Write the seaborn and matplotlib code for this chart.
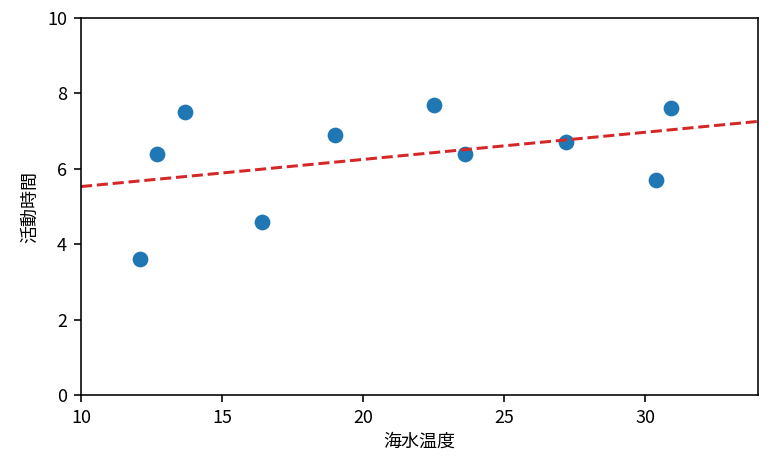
import numpy as np
import matplotlib
matplotlib.use("Agg")
import matplotlib.pyplot as plt
import seaborn as sns

# sea temperature vs. activity time
sea_temp = [12.1, 12.7, 13.7, 16.4, 19.0, 22.5, 23.6, 27.2, 30.4, 30.9]
activity = [3.6, 6.4, 7.5, 4.6, 6.9, 7.7, 6.4, 6.7, 5.7, 7.6]
x_limits = [10, 34]
y_limits = [0, 10]

plt.rcParams['font.family'] = ['Noto Sans CJK JP', 'DejaVu Sans']
plt.rcParams['font.size'] = 9

fig, ax = plt.subplots(figsize=(777 / 144, 457 / 144), dpi=144)
fig.subplots_adjust(left=81 / 777, right=758 / 777, top=1 - 18 / 457, bottom=1 - 395 / 457)

sns.scatterplot(x=sea_temp, y=activity, ax=ax, s=62, color='#1f77b4', linewidth=0)

# least squares fit over the whole x range
slope, intercept = np.polyfit(sea_temp, activity, 1)
line_x = np.array(x_limits, dtype=float)
ax.plot(line_x, slope * line_x + intercept, color='#d62728', linestyle='--', linewidth=1.5)

ax.set_xlim(x_limits)
ax.set_ylim(y_limits)
ax.set_xlabel('海水温度', labelpad=3)
ax.set_ylabel('活動時間')

fig.savefig('out.png', dpi=144)
